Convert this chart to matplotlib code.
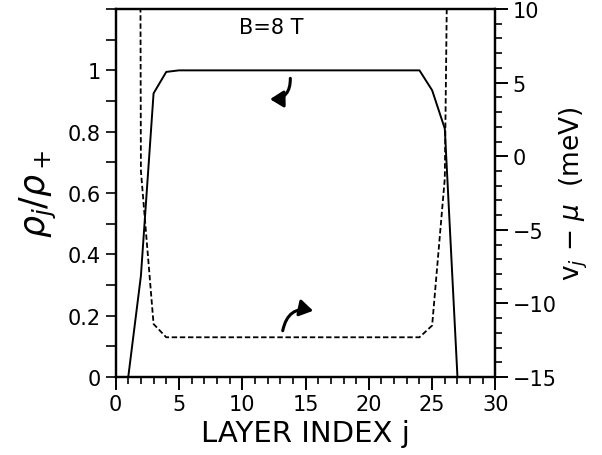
import matplotlib.pyplot as plt
from matplotlib.patches import FancyArrowPatch
from matplotlib.ticker import MultipleLocator

# density profile rho_j / rho_+ (left axis)
layer = [1, 2, 3, 4, 5, 6, 7, 8, 9, 10, 11, 12, 13, 14, 15, 16, 17, 18, 19, 20,
         21, 22, 23, 24, 25, 26, 27]
density = [0.0, 0.33, 0.925, 0.995, 1.0, 1.0, 1.0, 1.0, 1.0, 1.0, 1.0, 1.0, 1.0, 1.0,
           1.0, 1.0, 1.0, 1.0, 1.0, 1.0, 1.0, 1.0, 1.0, 1.0, 0.935, 0.81, 0.0]

# potential v_j - mu in meV (right axis), walls go off the top
layer_v = [1.95, 2, 3, 4, 5, 6, 7, 8, 9, 10, 11, 12, 13, 14, 15, 16, 17, 18, 19, 20,
           21, 22, 23, 24, 25, 26, 26.22]
potential = [15.0, -1.0, -11.4, -12.3, -12.3, -12.3, -12.3, -12.3, -12.3, -12.3, -12.3,
             -12.3, -12.3, -12.3, -12.3, -12.3, -12.3, -12.3, -12.3, -12.3, -12.3,
             -12.3, -12.3, -12.3, -11.5, -1.5, 15.0]


def main():
    fig = plt.figure(figsize=(6.02, 4.56), dpi=100)
    ax = fig.add_axes([0.192, 0.171, 0.631, 0.807])
    ax2 = ax.twinx()

    ax.plot(layer, density, color='black', lw=1.4)
    ax2.plot(layer_v, potential, color='black', lw=1.3, ls=(0, (3, 1.5)))

    ax.set_xlim(0, 30)
    ax.set_ylim(0, 1.2)
    ax2.set_ylim(-15, 10)

    ax.xaxis.set_major_locator(MultipleLocator(5))
    ax.xaxis.set_minor_locator(MultipleLocator(1))
    ax.set_yticks([0, 0.2, 0.4, 0.6, 0.8, 1.0])
    ax.set_yticklabels(['0', '0.2', '0.4', '0.6', '0.8', '1'])
    ax.yaxis.set_minor_locator(MultipleLocator(0.1))
    ax2.set_yticks([-15, -10, -5, 0, 5, 10])
    ax2.set_yticklabels(['\u221215', '\u221210', '\u22125', '0', '5', '10'])
    ax2.yaxis.set_minor_locator(MultipleLocator(1))

    for a in (ax, ax2):
        for s in a.spines.values():
            s.set_linewidth(1.6)
    ax.tick_params(axis='x', which='major', direction='out', length=9, width=1.4,
                   labelsize=15, top=False)
    ax.tick_params(axis='x', which='minor', direction='out', length=5, width=1.2, top=False)
    ax.tick_params(axis='y', which='both', direction='out', length=7, width=1.2,
                   labelsize=15, right=False)
    ax2.tick_params(axis='y', which='major', direction='out', length=9, width=1.4,
                    labelsize=15)
    ax2.tick_params(axis='y', which='minor', direction='out', length=5, width=1.2)

    ax.set_xlabel('LAYER INDEX j', fontsize=21, labelpad=3)
    ax.set_ylabel(r'$\rho_j/\rho_+$', fontsize=25, labelpad=6)
    ax2.set_ylabel(r'v$_j$ $-$ $\mu$  (meV)', fontsize=19, labelpad=1)

    ax.text(12.3, 1.142, 'B=8 T', fontsize=15, ha='center', va='center')

    # curved arrows pointing at each curve
    ax.add_patch(FancyArrowPatch((13.8, 0.974), (12.2, 0.906), connectionstyle='arc3,rad=-0.5',
                                 arrowstyle='-|>,head_length=8,head_width=5', lw=2.2,
                                 color='black', shrinkA=0, shrinkB=0))
    ax.add_patch(FancyArrowPatch((13.2, 0.151), (15.6, 0.216), connectionstyle='arc3,rad=-0.5',
                                 arrowstyle='-|>,head_length=8,head_width=5', lw=2.2,
                                 color='black', shrinkA=0, shrinkB=0))

    fig.savefig('out.png', dpi=100)


# Run the main program
if __name__ == '__main__':
    main()
